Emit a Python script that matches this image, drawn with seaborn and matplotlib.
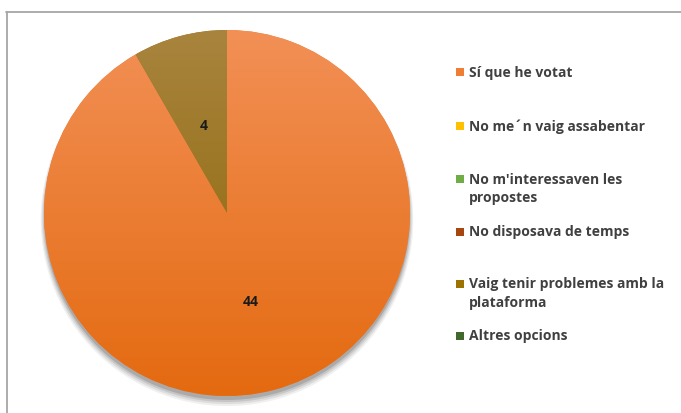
import numpy as np
import matplotlib
matplotlib.use("Agg")
import matplotlib.pyplot as plt
import matplotlib.colors as mcolors
from matplotlib.patches import Rectangle, Circle
import seaborn as sns

# Data
categories = ["Sí que he votat", "No me´n vaig assabentar",
              "No m'interessaven les\npropostes", "No disposava de temps",
              "Vaig tenir problemes amb la\nplataforma", "Altres opcions"]
counts = [44, 0, 0, 0, 4, 0]
colors = ["#F07D34", "#FFC000", "#70AD47", "#A8460F", "#9C7200", "#43682B"]
# gradient top/bottom for the visible slices
grad_top = {0: "#F29056", 4: "#A8843E"}
grad_bot = {0: "#E46A10", 4: "#8A6300"}

sns.set_theme(style="white")
plt.rcParams["font.family"] = ["Open Sans", "DejaVu Sans"]

W, H = 681, 414
fig = plt.figure(figsize=(W / 100, H / 100), dpi=100)
fig.patch.set_facecolor("white")

# chart frame
fig.add_artist(plt.Line2D([6.5 / W, 6.5 / W], [0, 1 - 12.5 / H], color="#A6A6A6", lw=1.3))
fig.add_artist(plt.Line2D([6 / W, 1], [1 - 12.5 / H, 1 - 12.5 / H], color="#A6A6A6", lw=1.3))

cx, cy, r = 227, 214, 183
ax = fig.add_axes([(cx - r) / W, (H - cy - r) / H, 2 * r / W, 2 * r / H])
ax.set_xlim(-1, 1)
ax.set_ylim(-1, 1)
ax.set_aspect("equal")
ax.axis("off")

# soft shadow
for i, a in enumerate([0.06, 0.08, 0.10, 0.14]):
    ax.add_patch(Circle((0, -0.022 - 0.005 * (3 - i)), 1.0 + 0.006 * (3 - i),
                        color="black", alpha=a, lw=0, zorder=0, clip_on=False))

wedges, texts, autotexts = ax.pie(
    counts, colors=colors, startangle=90, counterclock=False, radius=1,
    autopct=lambda p: f"{round(p * sum(counts) / 100):d}" if p > 0 else "",
    pctdistance=0.5, wedgeprops=dict(linewidth=0),
    textprops=dict(fontsize=10, fontweight="bold", color="#1a1a1a"))
for w in wedges:
    w.set_zorder(1)

# vertical gradient inside each visible wedge
yy = np.linspace(1, 0, 256).reshape(-1, 1)
for i, w in enumerate(wedges):
    if counts[i] == 0:
        continue
    cmap = mcolors.LinearSegmentedColormap.from_list("g", [grad_bot[i], grad_top[i]])
    im = ax.imshow(yy, extent=[-1, 1, -1, 1], cmap=cmap, aspect="auto",
                   zorder=2, interpolation="bilinear")
    im.set_clip_path(w)
for t in autotexts:
    t.set_zorder(5)
ax.set_xlim(-1, 1)
ax.set_ylim(-1, 1)

# legend
rows = [73, 127, 180, 233, 285, 337]
for lab, col, yrow in zip(categories, colors, rows):
    fig.add_artist(Rectangle((456 / W, 1 - (yrow + 4) / H), 8 / W, 8 / H,
                             transform=fig.transFigure, color=col, lw=0))
    fig.text(469 / W, 1 - (yrow - 7.5) / H, lab, fontsize=10, fontweight="bold",
             color="#404040", va="top", ha="left", linespacing=1.4)

fig.savefig("out.png", dpi=100, facecolor="white")
